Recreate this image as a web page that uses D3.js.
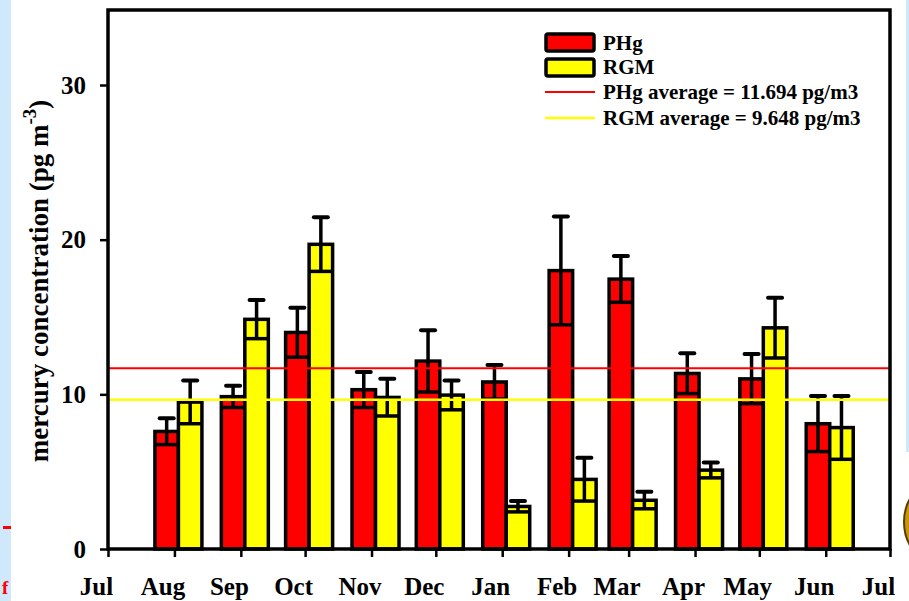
<!DOCTYPE html>
<meta charset="utf-8">
<style>
  body { margin: 0; background: #fff; }
  svg { display: block; }
</style>
<body>
<svg width="909" height="601"></svg>
<script src="https://cdn.jsdelivr.net/npm/d3@7"></script>
<script>

// monthly means and error bars
var months = ["2010-08-01", "2010-09-01", "2010-10-01", "2010-11-01", "2010-12-01", "2011-01-01",
              "2011-02-01", "2011-03-01", "2011-04-01", "2011-05-01", "2011-06-01"];
var phg    = [7.6, 9.85, 14.0, 10.3, 12.15, 10.8, 18.0, 17.45, 11.35, 11.0, 8.1];
var phgErr = [0.85, 0.7, 1.6, 1.15, 2.0, 1.1, 3.5, 1.5, 1.3, 1.6, 1.8];
var rgm    = [9.5, 14.85, 19.7, 9.8, 9.95, 2.75, 4.5, 3.15, 5.1, 14.3, 7.85];
var rgmErr = [1.4, 1.25, 1.75, 1.2, 0.95, 0.35, 1.4, 0.55, 0.5, 1.95, 2.05];
var phgAvg = 11.694, rgmAvg = 9.648;
var yTicks = [0, 10, 20, 30];
var legendLabels = ["PHg", "RGM", "PHg average = 11.694 pg/m3", "RGM average = 9.648 pg/m3"];

var svg = d3.select("svg");
var font = "'Liberation Serif', 'Times New Roman', serif";

// slide leftovers around the cropped figure
svg.append("rect").attr("x", 0).attr("y", 0).attr("width", 11).attr("height", 601).attr("fill", "#cfe8fb");
svg.append("rect").attr("x", 3).attr("y", 526).attr("width", 8).attr("height", 3).attr("fill", "#f00");
svg.append("text").attr("x", 2).attr("y", 594).attr("fill", "#f00")
    .style("font", "bold 19px " + font).text("f");
svg.append("rect").attr("x", 906).attr("y", 0).attr("width", 3).attr("height", 452).attr("fill", "#cfe8fb");
svg.append("ellipse").attr("cx", 936).attr("cy", 522).attr("rx", 32).attr("ry", 40)
    .attr("fill", "#c8960c").attr("stroke", "#5a3c05").attr("stroke-width", 2);

var plot = {left: 108, right: 890, top: 10, bottom: 549};

var x = d3.scaleUtc()
    .domain([new Date("2010-07-01"), new Date("2011-07-01")])
    .range([plot.left, plot.right]);
var y = d3.scaleLinear()
    .domain([0, 34.85])
    .range([plot.bottom, plot.top]);

var barW = 23.5, shift = 4;
var rows = months.map(function (m, i) {
    return {date: new Date(m), phg: phg[i], phgErr: phgErr[i], rgm: rgm[i], rgmErr: rgmErr[i]};
});

var series = [
    {key: "phg", err: "phgErr", color: "#ff0000", off: -barW},
    {key: "rgm", err: "rgmErr", color: "#ffff00", off: 0}
];

var g = svg.append("g");

series.forEach(function (s) {
    g.selectAll(".bar-" + s.key)
        .data(rows)
        .enter().append("rect")
        .attr("x", function (d) { return x(d.date) + shift + s.off; })
        .attr("width", barW)
        .attr("y", function (d) { return y(d[s.key]); })
        .attr("height", function (d) { return plot.bottom - y(d[s.key]); })
        .attr("fill", s.color)
        .attr("stroke", "#000")
        .attr("stroke-width", 3.5);
});

// error bars
series.forEach(function (s) {
    var eb = g.selectAll(".err-" + s.key)
        .data(rows)
        .enter().append("g");
    var cx = function (d) { return x(d.date) + shift + s.off + barW / 2; };
    eb.append("line")
        .attr("x1", cx).attr("x2", cx)
        .attr("y1", function (d) { return y(d[s.key] - d[s.err]); })
        .attr("y2", function (d) { return y(d[s.key] + d[s.err]); })
        .attr("stroke", "#000").attr("stroke-width", 3.5);
    eb.append("line")
        .attr("x1", function (d) { return cx(d) - 7; })
        .attr("x2", function (d) { return cx(d) + 7; })
        .attr("y1", function (d) { return y(d[s.key] + d[s.err]); })
        .attr("y2", function (d) { return y(d[s.key] + d[s.err]); })
        .attr("stroke", "#000").attr("stroke-width", 4).attr("stroke-linecap", "round");
    eb.append("line")
        .attr("x1", function (d) { return cx(d) - barW / 2; })
        .attr("x2", function (d) { return cx(d) + barW / 2; })
        .attr("y1", function (d) { return y(d[s.key] - d[s.err]); })
        .attr("y2", function (d) { return y(d[s.key] - d[s.err]); })
        .attr("stroke", "#000").attr("stroke-width", 3.5);
});

// average lines
g.append("line").attr("x1", plot.left).attr("x2", plot.right)
    .attr("y1", y(phgAvg)).attr("y2", y(phgAvg))
    .attr("stroke", "#ff0000").attr("stroke-width", 2);
g.append("line").attr("x1", plot.left).attr("x2", plot.right)
    .attr("y1", y(rgmAvg)).attr("y2", y(rgmAvg))
    .attr("stroke", "#ffff00").attr("stroke-width", 2.5);

// frame
svg.append("rect")
    .attr("x", plot.left).attr("y", plot.top)
    .attr("width", plot.right - plot.left).attr("height", plot.bottom - plot.top)
    .attr("fill", "none").attr("stroke", "#000").attr("stroke-width", 3.5);

// axes
var yAxis = svg.append("g")
    .attr("transform", "translate(" + plot.left + ",0)")
    .call(d3.axisLeft(y).tickValues(yTicks).tickSize(8).tickFormat(d3.format("d")));
yAxis.select(".domain").remove();
yAxis.selectAll("line").attr("stroke-width", 2.5);
yAxis.selectAll("text")
    .attr("x", -22)
    .style("font", "bold 25px " + font)
    .attr("fill", "#000");

var xAxis = svg.append("g")
    .attr("transform", "translate(0," + plot.bottom + ")")
    .call(d3.axisBottom(x).ticks(d3.utcMonth.every(1)).tickSize(8).tickFormat(d3.utcFormat("%b")));
xAxis.select(".domain").remove();
xAxis.selectAll("line").attr("stroke-width", 2.5);
xAxis.selectAll("text")
    .attr("y", 46).attr("dy", 0).attr("dx", -12)
    .style("font", "bold 25px " + font)
    .attr("fill", "#000");

// y label
var yl = svg.append("text")
    .attr("transform", "translate(48,281) rotate(-90)")
    .attr("text-anchor", "middle")
    .style("font", "bold 27px " + font)
    .attr("fill", "#000");
yl.append("tspan").text("mercury concentration (pg m");
yl.append("tspan").attr("dy", -12).style("font-size", "19px").text("-3");
yl.append("tspan").attr("dy", 12).text(")");

// legend
var lg = svg.append("g").attr("transform", "translate(545,0)");
var legendY = [43, 67, 92, 118];
lg.append("rect").attr("x", 1).attr("y", 34).attr("width", 48).attr("height", 17)
    .attr("rx", 2).attr("fill", "#ff0000").attr("stroke", "#000").attr("stroke-width", 3.5);
lg.append("rect").attr("x", 1).attr("y", 59).attr("width", 48).attr("height", 17)
    .attr("rx", 2).attr("fill", "#ffff00").attr("stroke", "#000").attr("stroke-width", 3.5);
lg.append("line").attr("x1", 0).attr("x2", 50).attr("y1", legendY[2]).attr("y2", legendY[2])
    .attr("stroke", "#ff0000").attr("stroke-width", 2);
lg.append("line").attr("x1", 0).attr("x2", 50).attr("y1", legendY[3]).attr("y2", legendY[3])
    .attr("stroke", "#ffff00").attr("stroke-width", 2.5);
lg.selectAll(".lt")
    .data(legendLabels)
    .enter().append("text")
    .attr("x", 58)
    .attr("y", function (d, i) { return legendY[i] + 7; })
    .style("font", "bold 21px " + font)
    .attr("fill", "#000")
    .text(function (d) { return d; });

</script>
</body>
